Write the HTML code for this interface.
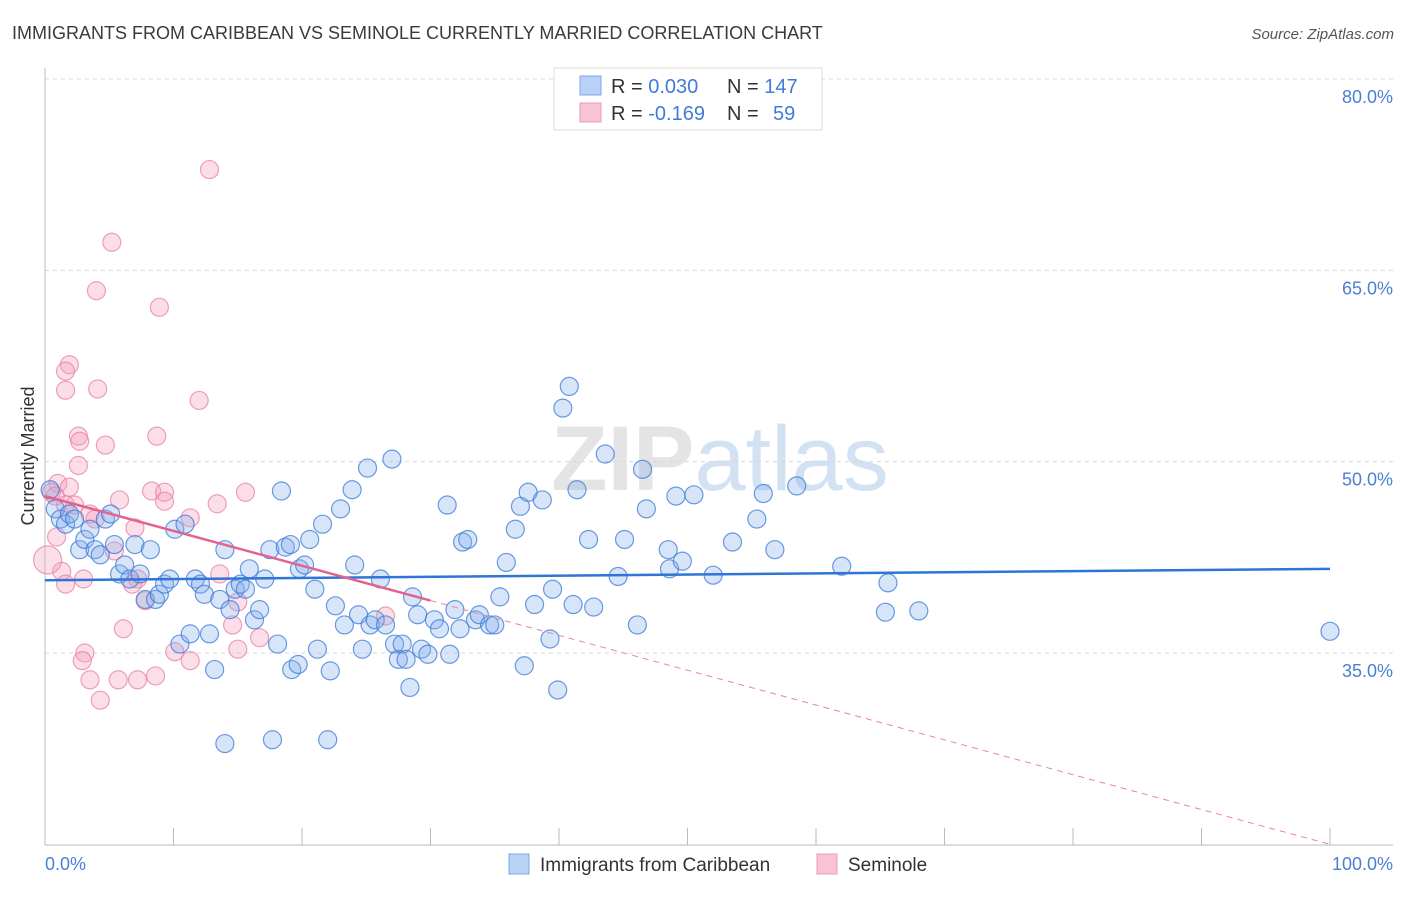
<!DOCTYPE html>
<html><head><meta charset="utf-8"><style>
body{margin:0;background:#fff;font-family:"Liberation Sans",sans-serif}
svg text{font-family:"Liberation Sans",sans-serif}
</style></head><body>
<svg id="chart" width="1406" height="892" viewBox="0 0 1406 892" xmlns="http://www.w3.org/2000/svg">
<text x="12" y="39" font-size="18" fill="#3a3a3a">IMMIGRANTS FROM CARIBBEAN VS SEMINOLE CURRENTLY MARRIED CORRELATION CHART</text>
<text x="1394" y="39" font-size="15" fill="#555" text-anchor="end" font-style="italic">Source: ZipAtlas.com</text>
<text x="720" y="490" font-size="92" text-anchor="middle" fill="#e4e4e4" font-family="Liberation Serif" font-weight="bold">ZIP<tspan fill="#d3e2f2" font-family="Liberation Sans" font-weight="normal">atlas</tspan></text>
<g id="grid"></g>
<g id="axes"></g>
<g id="marks"></g>
<text transform="translate(34,456) rotate(-90)" font-size="18" fill="#333" text-anchor="middle">Currently Married</text>
<text x="45" y="870" font-size="18" fill="#4a7fd4">0.0%</text>
<text x="1393" y="870" font-size="18" fill="#4a7fd4" text-anchor="end">100.0%</text>
<g>
<rect x="554" y="68" width="268" height="62" fill="#fff" stroke="#ddd"/>
<rect x="580" y="76" width="21" height="19" fill="#b9d1f5" stroke="#7aa7e6"/>
<rect x="580" y="103" width="21" height="19" fill="#f8c4d4" stroke="#ec9ab3"/>
<text x="611" y="93" font-size="20" fill="#333">R = <tspan fill="#3f7bd9">0.030</tspan><tspan x="727">N = </tspan><tspan fill="#3f7bd9">147</tspan></text>
<text x="611" y="120" font-size="20" fill="#333">R = <tspan fill="#3f7bd9">-0.169</tspan><tspan x="727">N = </tspan><tspan fill="#3f7bd9" x="773">59</tspan></text>
</g>
<g>
<rect x="509" y="854" width="20" height="20" fill="#b9d1f5" stroke="#7aa7e6"/>
<text x="540" y="871" font-size="19" fill="#333">Immigrants from Caribbean</text>
<rect x="817" y="854" width="20" height="20" fill="#f8c4d4" stroke="#ec9ab3"/>
<text x="848" y="871" font-size="19" fill="#333">Seminole</text>
</g>
</svg>
<script>
const yTicks=[80,65,50,35];
const yTickLabels=["80.0%","65.0%","50.0%","35.0%"];
const blueX=[0.4,0.8,1.2,1.6,1.9,2.3,2.7,3.1,3.5,3.9,4.3,4.7,5.1,5.4,5.8,6.2,6.6,7.0,7.4,7.8,8.2,8.6,8.9,9.3,9.7,10.1,10.5,10.9,11.3,11.7,12.1,12.4,12.8,13.2,13.6,14.0,14.0,14.4,14.8,15.2,15.6,15.9,16.3,16.7,17.1,17.5,17.7,18.1,18.4,18.7,19.1,19.2,19.7,19.8,20.2,20.6,21.0,21.2,21.6,22.0,22.2,22.6,23.0,23.3,23.9,24.1,24.4,24.7,25.1,25.3,25.7,26.1,26.5,27.0,27.2,27.5,27.8,28.1,28.4,28.6,29.0,29.3,29.8,30.3,30.7,31.3,31.5,31.9,32.3,32.5,32.9,33.5,33.8,34.6,35.0,35.4,35.9,36.6,37.0,37.3,37.6,38.1,38.7,39.3,39.5,39.9,40.3,40.8,41.1,41.4,42.3,42.7,43.6,44.6,45.1,46.1,46.5,46.8,48.5,48.6,49.1,49.6,50.5,52.0,53.5,55.4,55.9,56.8,58.5,62.0,65.4,65.6,68.0,100];
const blueY=[47.8,46.3,45.5,45.1,45.9,45.5,43.1,43.9,44.7,43.1,42.7,45.5,45.9,43.5,41.2,41.9,40.8,43.5,41.2,39.2,43.1,39.2,39.6,40.4,40.8,44.7,35.7,45.1,36.5,40.8,40.4,39.6,36.5,33.7,39.2,43.1,27.9,38.4,40.0,40.4,40.0,41.6,37.6,38.4,40.8,43.1,28.2,35.7,47.7,43.3,43.5,33.7,34.1,41.6,41.9,43.9,40.0,35.3,45.1,28.2,33.6,38.7,46.3,37.2,47.8,41.9,38.0,35.3,49.5,37.2,37.6,40.8,37.2,50.2,35.7,34.5,35.7,34.5,32.3,39.4,38.0,35.3,34.9,37.6,36.9,46.6,34.9,38.4,36.9,43.7,43.9,37.6,38.0,37.2,37.2,39.4,42.1,44.7,46.5,34.0,47.6,38.8,47.0,36.1,40.0,32.1,54.2,55.9,38.8,47.8,43.9,38.6,50.6,41.0,43.9,37.2,49.4,46.3,43.1,41.6,47.3,42.2,47.4,41.1,43.7,45.5,47.5,43.1,48.1,41.8,38.2,40.5,38.3,36.7];
const pinkX=[12.8,5.2,4.0,8.9,1.9,1.6,1.6,4.1,12.0,2.6,8.7,2.7,4.7,2.6,1.0,1.9,0.5,0.8,15.6,8.3,9.3,5.8,13.4,1.6,2.3,3.5,3.9,11.3,0.9,7.0,5.4,7.2,1.3,3.0,6.8,1.6,13.6,15.0,7.8,14.6,16.7,6.1,10.1,3.1,2.9,11.3,8.6,5.7,3.5,7.2,4.3,15.0,26.5,9.3,0.2];
const pinkY=[72.9,67.2,63.4,62.1,57.6,57.1,55.6,55.7,54.8,52.0,52.0,51.6,51.3,49.7,48.3,48.0,47.6,47.3,47.6,47.7,47.6,47.0,46.7,46.6,46.6,45.9,45.5,45.6,44.1,44.8,43.0,40.8,41.4,40.8,40.4,40.4,41.2,39.0,39.1,37.2,36.2,36.9,35.1,35.0,34.4,34.4,33.2,32.9,32.9,32.9,31.3,35.3,37.9,46.9,42.3];
const blueTrend=[40.7,41.6];
const pinkTrend=[47.3,20.0];
const pinkSolidEnd=30;

const X0=45,X1=1330,YTOP=79,YBOT=653,PLOT_BOTTOM=845;
const sx=v=>X0+(X1-X0)*v/100;
const sy=v=>YTOP+(80-v)*(YBOT-YTOP)/45;
const NS="http://www.w3.org/2000/svg";
function mk(tag,attrs,parent){const e=document.createElementNS(NS,tag);for(const k in attrs)e.setAttribute(k,attrs[k]);parent.appendChild(e);return e;}
const grid=document.getElementById('grid'),axes=document.getElementById('axes'),marks=document.getElementById('marks');
yTicks.forEach((t,i)=>{
 const l=mk('line',{x1:X0,x2:1393,y1:sy(t),y2:sy(t),stroke:'#d8d8d8','stroke-dasharray':'4,4'},grid);
 
 
 const tx=mk('text',{x:1393,y:sy(t)+24,'font-size':18,fill:'#4a7fd4','text-anchor':'end'},grid);
 tx.textContent=yTickLabels[i];
 
 
});
const ya=mk('line',{x1:X0,x2:X0,y1:68,y2:PLOT_BOTTOM,stroke:'#bbb'},axes);


const xa=mk('line',{x1:X0,x2:1393,y1:PLOT_BOTTOM,y2:PLOT_BOTTOM,stroke:'#bbb'},axes);


for(let k=0;k<=10;k++){
 const t=mk('line',{x1:sx(k*10),x2:sx(k*10),y1:828,y2:PLOT_BOTTOM,stroke:'#bbb'},axes);
 
 
}
pinkX.forEach((x,i)=>{
 const c=mk('circle',{cx:sx(x),cy:sy(pinkY[i]),r:(i==pinkX.length-1?14:9),fill:'rgba(244,160,188,0.35)',stroke:'rgba(232,130,165,0.75)','stroke-width':1.2},marks);
 
 
});
blueX.forEach((x,i)=>{
 const c=mk('circle',{cx:sx(x),cy:sy(blueY[i]),r:9,fill:'rgba(130,175,235,0.32)',stroke:'rgba(60,120,215,0.75)','stroke-width':1.2},marks);
 
 
});
const bt=mk('line',{x1:sx(0),y1:sy(blueTrend[0]),x2:sx(100),y2:sy(blueTrend[1]),stroke:'#2f74d6','stroke-width':2.5},marks);


const pAt=x=>pinkTrend[0]+(pinkTrend[1]-pinkTrend[0])*x/100;
const ps=mk('line',{x1:sx(0),y1:sy(pAt(0)),x2:sx(pinkSolidEnd),y2:sy(pAt(pinkSolidEnd)),stroke:'#e2638e','stroke-width':2.5},marks);


const pd=mk('line',{x1:sx(pinkSolidEnd),y1:sy(pAt(pinkSolidEnd)),x2:sx(100),y2:sy(pAt(100)),stroke:'#e8849f','stroke-width':1,'stroke-dasharray':'6,5'},marks);


</script>
</body></html>
